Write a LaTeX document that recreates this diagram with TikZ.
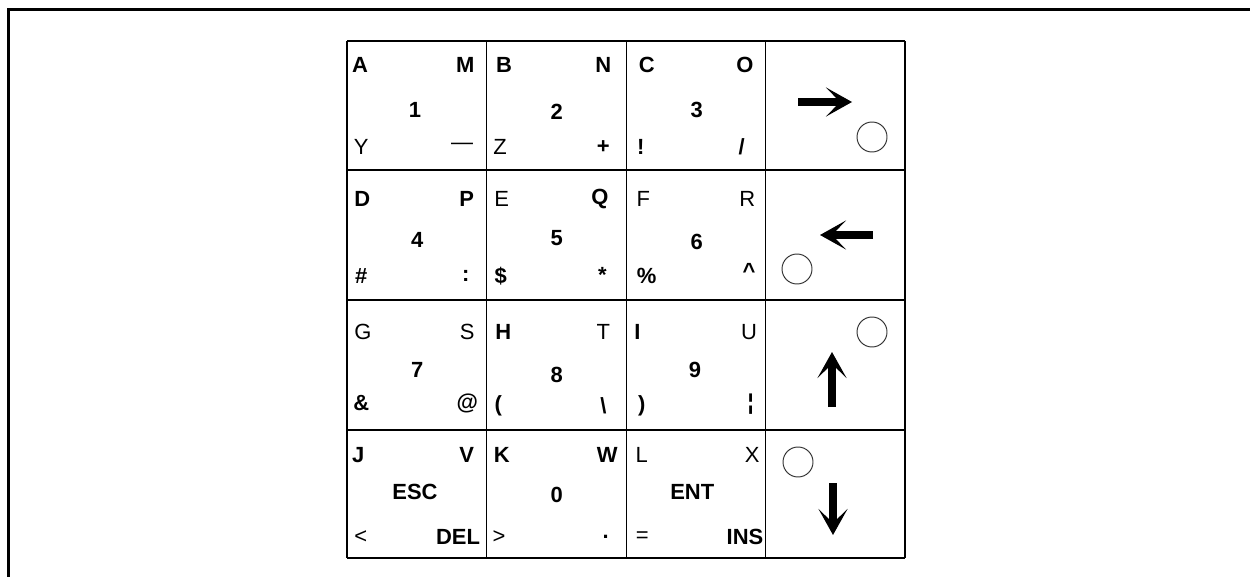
\documentclass[tikz,border=0pt]{standalone}
\usepackage{fontspec}
\setmainfont{Liberation Sans}
\usetikzlibrary{arrows.meta}
\tikzset{
  frameline/.style={line width=1.7pt,black},
  gridline/.style={line width=0.8pt,black},
  kb/.style={inner sep=0pt,font=\fontsize{12.5}{14}\selectfont\bfseries},
  kr/.style={inner sep=0pt,font=\fontsize{12.5}{14}\selectfont},
  ring/.style={draw=black!80,line width=0.55pt},
  bigarrow/.style={line width=4.6pt,-{Stealth[length=0.52cm,width=0.58cm,inset=0.28cm]}}
}
\begin{document}
\begin{tikzpicture}[x=0.02cm,y=-0.02cm]
\useasboundingbox (0,0) rectangle (1250,577);
% outer frame (left and top edges)
\draw[frameline] (8.7,577) -- (8.7,9.5) -- (1250,9.5);
% keypad grid
\foreach \gx in {347,486.7,626.7,765.5,905} \draw[gridline] (\gx,41) -- (\gx,558);
\foreach \gy in {41,170,300,430,558} \draw[gridline] (347,\gy) -- (905,\gy);

% row 1
\node[kb] (kA) at (360,65) {A};
\node[kb] (kM) at (465.3,65) {M};
\node[kb] (k1) at (415,110) {1};
\node[kr] (kY) at (361.3,147) {Y};
\node[kr] (kdash) at (462,146) {—};
\node[kb] (kB) at (504,65) {B};
\node[kb] (kN) at (603.3,65) {N};
\node[kb] (k2) at (556.7,111.7) {2};
\node[kr] (kZ) at (500,147) {Z};
\node[kb] (kplus) at (603.3,147) {+};
\node[kb] (kC) at (646.7,65) {C};
\node[kb] (kO) at (745,65) {O};
\node[kb] (k3) at (696.7,110) {3};
\node[kb] (kexcl) at (640.7,147) {!};
\node[kb] (kslash) at (741.7,147) {/};

% row 2
\node[kb] (kD) at (362.3,199.3) {D};
\node[kb] (kP) at (466.7,199.3) {P};
\node[kb] (k4) at (417.3,240) {4};
\node[kb] (khash) at (361.3,276) {\#};
\node[kb] (kcolon) at (465.7,276) {:};
\node[kr] (kE) at (501.7,199.3) {E};
\node[kb] (kQ) at (600,199.3) {Q};
\node[kb] (k5) at (556.7,238) {5};
\node[kb] (kdollar) at (500.7,276) {\$};
\node[kb] (kstar) at (602.3,275) {*};
\node[kr] (kF) at (643.3,199.3) {F};
\node[kr] (kR) at (747.3,199.3) {R};
\node[kb] (k6) at (696.7,241.7) {6};
\node[kb] (kpct) at (646.7,276) {\%};
\node[kb] (kcaret) at (749,271) {\textasciicircum};

% row 3
\node[kr] (kG) at (363,331.7) {G};
\node[kr] (kS) at (467.3,331.7) {S};
\node[kb] (k7) at (417.3,370) {7};
\node[kb] (kamp) at (361.3,403) {\&};
\node[kb] (kat) at (467.3,403) {@};
\node[kb] (kH) at (503.3,331.7) {H};
\node[kr] (kT) at (603.3,331.7) {T};
\node[kb] (k8) at (556.7,375) {8};
\node[kb] (klpar) at (498.3,406) {(};
\node[kb] (kbslash) at (603.3,406) {\textbackslash};
\node[kb] (kI) at (637.3,331.7) {I};
\node[kr] (kU) at (749,331.7) {U};
\node[kb] (k9) at (695,370) {9};
\node[kb] (krpar) at (641.7,406) {)};
\node[kb] (kbar) at (750.7,404) {¦};

% row 4
\node[kb] (kJ) at (358.3,455) {J};
\node[kb] (kV) at (466.7,455) {V};
\node[kb] (kesc) at (415,491.7) {ESC};
\node[kr] (klt) at (360.7,536.7) {<};
\node[kb] (kdel) at (458,536.7) {DEL};
\node[kb] (kK) at (501.7,455) {K};
\node[kb] (kW) at (607.3,455) {W};
\node[kb] (k0) at (556.7,495) {0};
\node[kr] (kgt) at (499,536.7) {>};
\node[kb] (kdot) at (605.7,536.7) {.};
\node[kr] (kL) at (641.7,455) {L};
\node[kr] (kX) at (752.3,455) {X};
\node[kb] (kent) at (692.3,491.7) {ENT};
\node[kr] (keq) at (642.3,536.7) {=};
\node[kb] (kins) at (745,536.7) {INS};

% direction keys
\draw[bigarrow] (798,102) -- (852,102);
\draw[ring] (872,137) circle[radius=15];
\draw[bigarrow] (873,235) -- (820,235);
\draw[ring] (797,269) circle[radius=15];
\draw[bigarrow] (832,407) -- (832,352);
\draw[ring] (872,332) circle[radius=15];
\draw[bigarrow] (833,483) -- (833,535);
\draw[ring] (798,462) circle[radius=15];
\end{tikzpicture}
\end{document}
